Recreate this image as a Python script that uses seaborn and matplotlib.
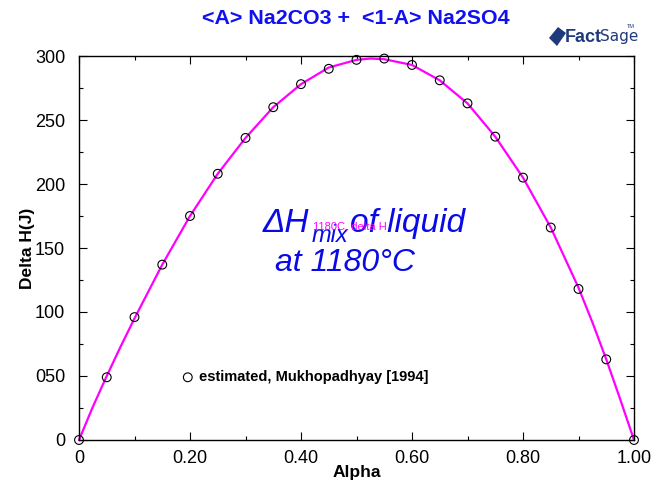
import numpy as np
import pandas as pd
import matplotlib
matplotlib.use("Agg")
import matplotlib.pyplot as plt
import seaborn as sns
from matplotlib.ticker import MultipleLocator, FixedLocator, FixedFormatter
from matplotlib.patches import Polygon

# ---- data ----
alpha_pts = [0.0, 0.05, 0.10, 0.15, 0.20, 0.25, 0.30, 0.35, 0.40, 0.45, 0.50,
             0.55, 0.60, 0.65, 0.70, 0.75, 0.80, 0.85, 0.90, 0.95, 1.0]
dh_pts = [0, 49, 96, 137, 175, 208, 236, 260, 278, 290, 297,
          298, 293, 281, 263, 237, 205, 166, 118, 63, 0]

alpha_curve = [0.0, 0.025, 0.05, 0.075, 0.10, 0.15, 0.20, 0.25, 0.30, 0.35, 0.40, 0.45, 0.50,
               0.525, 0.55, 0.60, 0.65, 0.70, 0.75, 0.80, 0.85, 0.90, 0.925, 0.95, 0.975, 1.0]
dh_curve = [0, 26, 50, 73, 95, 137, 175, 208, 236, 260, 278, 291, 297,
            298, 297.5, 293, 281, 263, 237, 205, 166, 119, 92, 63, 32, 0]

xticks = [0, 0.2, 0.4, 0.6, 0.8, 1.0]
xticklabels = ["0", "0.20", "0.40", "0.60", "0.80", "1.00"]
yticks = [0, 50, 100, 150, 200, 250, 300]
yticklabels = ["0", "050", "100", "150", "200", "250", "300"]

sns.set_theme(style="white")
plt.rcParams['font.family'] = ['Liberation Sans', 'DejaVu Sans']

W, H = 672, 483
fig = plt.figure(figsize=(W/100, H/100), dpi=100)
ax = fig.add_axes([79/W, 1-440/H, (634-79)/W, (440-56)/H])

curve_df = pd.DataFrame({"Alpha": alpha_curve, "dH": dh_curve})
pts_df = pd.DataFrame({"Alpha": alpha_pts, "dH": dh_pts})

sns.lineplot(data=curve_df, x="Alpha", y="dH", color="#FF00FF", linewidth=1.6,
             ax=ax, sort=False, clip_on=False)
sns.scatterplot(data=pts_df, x="Alpha", y="dH", marker="o", s=40,
                facecolor="none", edgecolor="black", linewidth=0.8,
                ax=ax, clip_on=False, zorder=5)

ax.set_xlim(0, 1)
ax.set_ylim(0, 300)
ax.xaxis.set_major_locator(FixedLocator(xticks))
ax.xaxis.set_major_formatter(FixedFormatter(xticklabels))
ax.xaxis.set_minor_locator(MultipleLocator(0.1))
ax.yaxis.set_major_locator(FixedLocator(yticks))
ax.yaxis.set_major_formatter(FixedFormatter(yticklabels))
ax.yaxis.set_minor_locator(MultipleLocator(25))

ax.tick_params(which="both", direction="in", top=True, right=True, bottom=True, left=True,
               color="black", labelsize=13, labelcolor="black")
ax.tick_params(axis="y", which="major", length=6, width=0.8, pad=10)
ax.tick_params(axis="x", which="major", length=6, width=0.8, pad=7)
ax.tick_params(which="minor", length=3, width=0.8)
for s in ax.spines.values():
    s.set_color("black")
    s.set_linewidth(1.0)

ax.set_xlabel("Alpha", fontsize=12.5, fontweight="bold", color="black", labelpad=-1)
ax.set_ylabel("Delta H(J)", fontsize=12.5, fontweight="bold", color="black", labelpad=0)

fig.text(356/W, 1-19/H, "<A> Na2CO3 +  <1-A> Na2SO4", ha="center", va="center",
         fontsize=15.4, fontweight="bold", color="#1010F0")

# annotations (data coordinates)
blue = "#0A0AE6"
ax.text(0.3315, 169.5, "\u0394H", fontsize=24, style="italic", color=blue,
        ha="left", va="center")
ax.text(0.4198, 160, "mix", fontsize=17, style="italic", color=blue,
        ha="left", va="center")
ax.text(0.4883, 169.5, "of liquid", fontsize=24, style="italic", color=blue,
        ha="left", va="center")
ax.text(0.4216, 167, "1180C, delta H", fontsize=8, color="#FF00FF", ha="left", va="center")
ax.text(0.353, 138, "at 1180°C", fontsize=23, style="italic", color=blue,
        ha="left", va="center")

# legend-like label
ax.scatter([0.196], [49], s=40, facecolor="none", edgecolor="black", linewidth=0.8)
ax.text(0.216, 49, "estimated, Mukhopadhyay [1994]", fontsize=10.5, fontweight="bold",
        color="black", ha="left", va="center")

# FactSage logo (approximation)
navy = "#1F3A7A"
fig.patches.append(Polygon([[549/W, 1-38/H], [558/W, 1-27/H], [566/W, 1-33/H], [557/W, 1-46/H]],
                           closed=True, transform=fig.transFigure, facecolor=navy,
                           edgecolor="none"))
fig.text(565/W, 1-37/H, "Fact", fontsize=13, fontweight="bold", color=navy,
         ha="left", va="center")
fig.text(600/W, 1-37/H, "Sage", fontsize=11, color=navy, ha="left", va="center",
         family="Liberation Sans Narrow")
fig.text(627/W, 1-27/H, "TM", fontsize=4, color=navy, ha="left", va="center")

fig.savefig("out.png", dpi=100)
